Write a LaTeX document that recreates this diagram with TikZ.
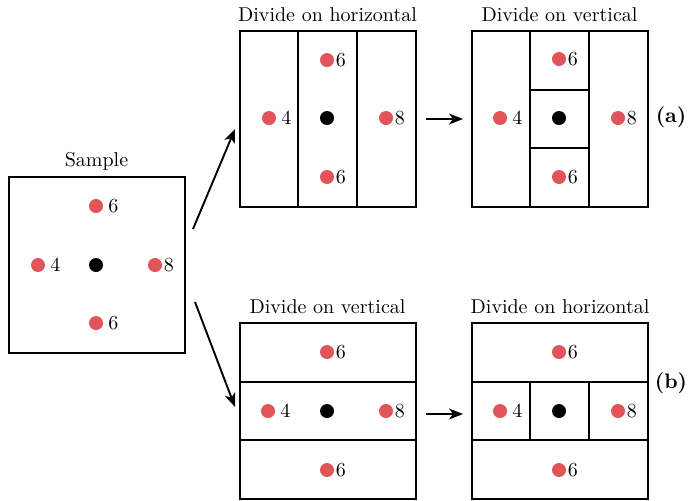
\documentclass[tikz,border=0pt]{standalone}
\usetikzlibrary{arrows.meta}
\definecolor{dotred}{RGB}{224,84,90}
\begin{document}
\begin{tikzpicture}[x=0.5pt,y=-0.5pt,
  box/.style={draw,line width=1pt,minimum width=88pt,minimum height=88pt,inner sep=0pt,outer sep=0pt},
  div/.style={line width=1pt},
  rdot/.style={circle,fill=dotred,inner sep=0pt,minimum size=7pt},
  bdot/.style={circle,fill=black,inner sep=0pt,minimum size=7pt},
  val/.style={anchor=west,inner sep=0.5pt,font=\normalsize},
  sval/.style={anchor=west,inner sep=2.3pt,font=\normalsize},
  ttl/.style={font=\normalsize,inner sep=0pt},
  arr/.style={-{Stealth[length=7pt,width=5.5pt,inset=2pt]},line width=0.95pt},
  tag/.style={font=\fontsize{10.5}{12}\selectfont\bfseries,inner sep=0pt}]
\useasboundingbox (0,0) rectangle (688,500);

% Sample
\node[box] (S) at (96.5,265) {};
\node[ttl] (St) at (96.5,161) {Sample};
\node[rdot] (s6a) at (96,206) {}; \node[sval] at (s6a.east) {6};
\node[rdot] (s4) at (38,265) {};  \node[sval] at (s4.east) {4};
\node[bdot] (sc) at (96,265) {};
\node[rdot] (s8) at (155,265) {}; \node[val] at (s8.east) {8};
\node[rdot] (s6b) at (96,323) {}; \node[sval] at (s6b.east) {6};

% Top-left: Divide on horizontal
\node[box] (A1) at (327.5,119) {};
\node[ttl] (A1t) at (327.5,15) {Divide on horizontal};
\draw[div] (298,31) -- (298,207) (357,31) -- (357,207);
\node[rdot] (a16a) at (327,60) {}; \node[val] at (a16a.east) {6};
\node[rdot] (a14) at (269,118) {}; \node[sval] at (a14.east) {4};
\node[bdot] (a1c) at (327,118) {};
\node[rdot] (a18) at (386,118) {}; \node[val] at (a18.east) {8};
\node[rdot] (a16b) at (327,177) {}; \node[val] at (a16b.east) {6};

% Top-right: Divide on vertical
\node[box] (A2) at (559.5,119) {};
\node[ttl] (A2t) at (559.5,15) {Divide on vertical};
\draw[div] (530,31) -- (530,207) (589,31) -- (589,207)
           (530,90) -- (589,90) (530,148) -- (589,148);
\node[rdot] (a26a) at (559,59) {}; \node[val] at (a26a.east) {6};
\node[rdot] (a24) at (500,118) {}; \node[sval] at (a24.east) {4};
\node[bdot] (a2c) at (559,118) {};
\node[rdot] (a28) at (618,118) {}; \node[val] at (a28.east) {8};
\node[rdot] (a26b) at (559,177) {}; \node[val] at (a26b.east) {6};
\node[tag] (ta) at (671,117) {(a)};

% Bottom-left: Divide on vertical
\node[box] (B1) at (327.5,410.5) {};
\node[ttl] (B1t) at (327.5,307) {Divide on vertical};
\draw[div] (239,382) -- (416,382) (239,440) -- (416,440);
\node[rdot] (b16a) at (327,352) {}; \node[val] at (b16a.east) {6};
\node[rdot] (b14) at (268,411) {}; \node[sval] at (b14.east) {4};
\node[bdot] (b1c) at (327,411) {};
\node[rdot] (b18) at (386,411) {}; \node[val] at (b18.east) {8};
\node[rdot] (b16b) at (327,470) {}; \node[val] at (b16b.east) {6};

% Bottom-right: Divide on horizontal
\node[box] (B2) at (559.5,410.5) {};
\node[ttl] (B2t) at (560,307) {Divide on horizontal};
\draw[div] (471,382) -- (647,382) (471,440) -- (647,440)
           (530,382) -- (530,440) (589,382) -- (589,440);
\node[rdot] (b26a) at (559,352) {}; \node[val] at (b26a.east) {6};
\node[rdot] (b24) at (500,411) {}; \node[sval] at (b24.east) {4};
\node[bdot] (b2c) at (559,411) {};
\node[rdot] (b28) at (618,411) {}; \node[val] at (b28.east) {8};
\node[rdot] (b26b) at (559,470) {}; \node[val] at (b26b.east) {6};
\node[tag] (tb) at (671,383) {(b)};

% Arrows
\coordinate (p1) at (193,229); \coordinate (q1) at (235,129);
\coordinate (p2) at (195,302); \coordinate (q2) at (235,407);
\coordinate (p3) at (426,119); \coordinate (q3) at (463,119);
\coordinate (p4) at (426,414); \coordinate (q4) at (463,414);
\draw[arr] (p1) -- (q1);
\draw[arr] (p2) -- (q2);
\draw[arr] (p3) -- (q3);
\draw[arr] (p4) -- (q4);
\end{tikzpicture}
\end{document}
